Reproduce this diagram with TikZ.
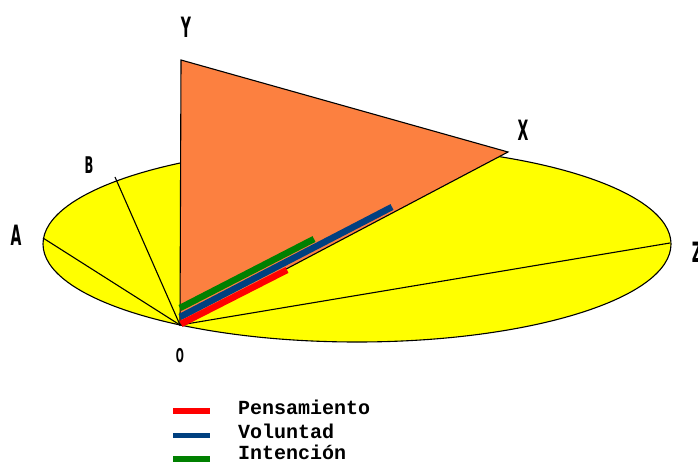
\documentclass[tikz,border=0pt]{standalone}
\usepackage{fontspec}
\setmainfont{DejaVu Sans}
\newfontfamily\legfont{Liberation Mono}
\definecolor{ell}{RGB}{255,255,0}
\definecolor{tri}{RGB}{252,128,64}
\definecolor{cred}{RGB}{255,0,0}
\definecolor{cblue}{RGB}{0,64,128}
\definecolor{cgreen}{RGB}{0,128,0}
\begin{document}
\begin{tikzpicture}[x=1pt,y=-1pt,
  axislabel/.style={font=\fontsize{28}{28}\selectfont\bfseries, xscale=0.5, inner sep=0pt},
  thinline/.style={draw=black, line width=1.1pt},
  vec/.style={line width=6.5pt},
  legline/.style={line width=5.5pt},
  legtext/.style={font=\legfont\fontsize{20}{20}\selectfont\bfseries, anchor=west, inner sep=0pt}]
\useasboundingbox (0,0) rectangle (698,462);
% points
\coordinate (C) at (357,244);
\coordinate (O) at (180,325);
\coordinate (Y) at (181,60);
\coordinate (X) at (508,152);
\coordinate (A) at (43,238);
\coordinate (B) at (115,177);
\coordinate (Z) at (670,243);
% base ellipse
\fill[ell] (C) ellipse [x radius=314, y radius=98];
\draw[thinline] (C) ellipse [x radius=314, y radius=98];
\draw[thinline] (O) -- (A);
\draw[thinline] (O) -- (B);
\draw[thinline] (O) -- (Z);
% plane triangle
\filldraw[fill=tri, thinline] (O) -- (Y) -- (X) -- cycle;
% vectors
\coordinate (r0) at (181,324); \coordinate (r1) at (287,270);
\coordinate (b0) at (180,317); \coordinate (b1) at (392,207);
\coordinate (g0) at (180,308); \coordinate (g1) at (314,239);
\draw[vec, cgreen] (g0) -- (g1);
\draw[vec, cblue] (b0) -- (b1);
\draw[vec, cred] (r0) -- (r1);
% labels
\node[axislabel] (lY) at (186,27) {Y};
\node[axislabel] (lX) at (523,130) {X};
\node[axislabel, font=\fontsize{23}{23}\selectfont\bfseries] (lB) at (89,165) {B};
\node[axislabel] (lA) at (16,235) {A};
\node[axislabel, font=\fontsize{19}{19}\selectfont\bfseries] (lO) at (180,356) {O};
\node[axislabel] (lZ) at (697,252) {Z};
% legend
\coordinate (p0) at (173,411); \coordinate (p1) at (210,411);
\coordinate (v0) at (173,435.5); \coordinate (v1) at (210,435.5);
\coordinate (i0) at (173,459); \coordinate (i1) at (210,459);
\draw[legline, cred] (p0) -- (p1);
\draw[legline, cblue] (v0) -- (v1);
\draw[legline, cgreen] (i0) -- (i1);
\node[legtext] (tP) at (238,407) {Pensamiento};
\node[legtext] (tV) at (238,431) {Voluntad};
\node[legtext] (tI) at (238,452) {Intención};
\end{tikzpicture}
\end{document}
